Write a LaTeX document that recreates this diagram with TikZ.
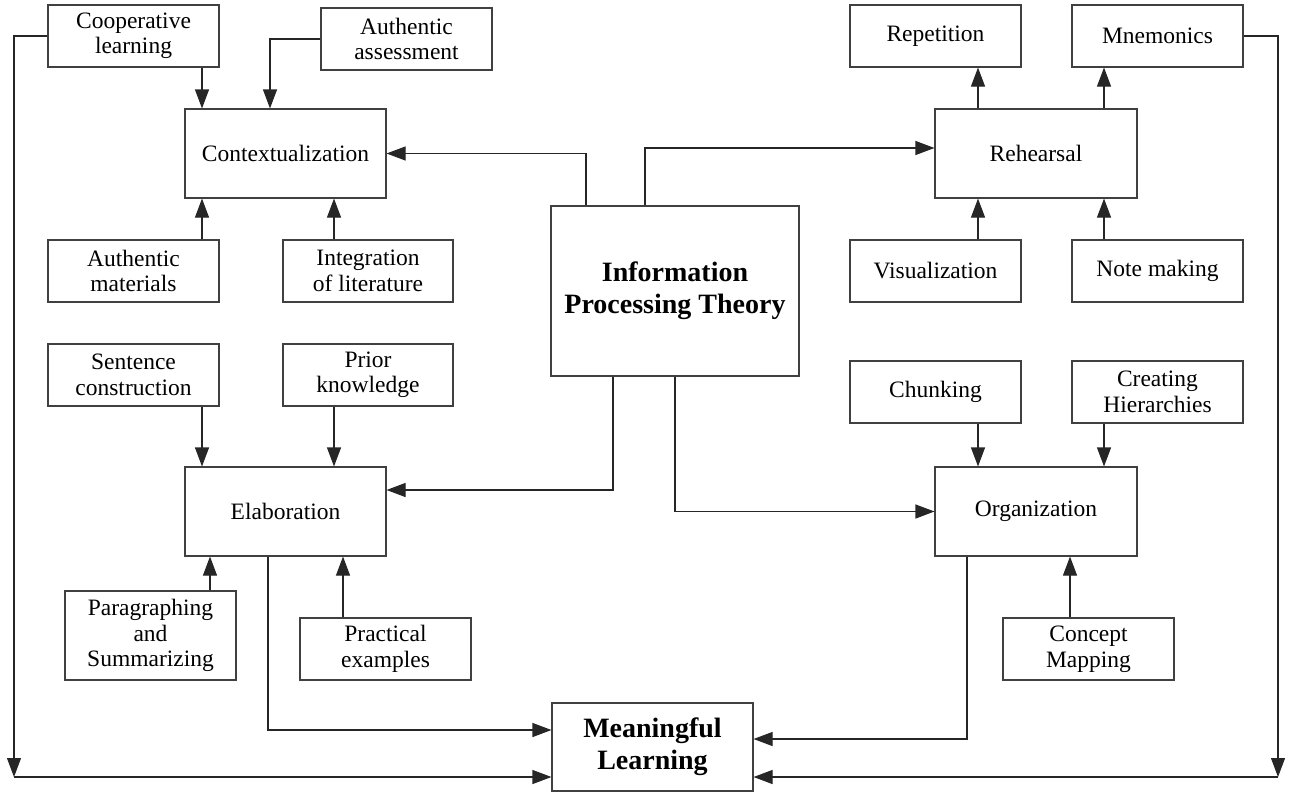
\documentclass[tikz,border=0pt]{standalone}
\usepackage{fontspec}
\setmainfont{Liberation Serif}
\usetikzlibrary{arrows.meta}
\begin{document}
\begin{tikzpicture}[x=1pt,y=-1pt,
  box/.style={draw=black!75, line width=1.1pt, rectangle, inner sep=0pt, align=center,
    font=\fontsize{23.5}{25.5}\selectfont, minimum width=171pt, minimum height=62pt},
  big/.style={box, minimum width=201pt, minimum height=89pt},
  boldtext/.style={font=\fontsize{28}{32}\selectfont\bfseries},
  arr/.style={draw=black!85, line width=1.1pt, -{Triangle[length=19pt,width=14pt]}},
]
\useasboundingbox (0,0) rectangle (1289,792);

% nodes
\node[box] (coop) at (133.5,36) {Cooperative\\learning};
\node[box] (aassess) at (406.5,39) {Authentic\\assessment};
\node[big] (context) at (285.5,153.5) {Contextualization};
\node[box] (amat) at (133.5,271) {Authentic\\materials};
\node[box, minimum width=170pt] (integ) at (368,271) {Integration\\of literature};
\node[box, boldtext, minimum width=248pt, minimum height=170pt] (ipt) at (675,291) {Information\\Processing Theory};
\node[box] (rep) at (935.5,36) {Repetition};
\node[box] (mnem) at (1157.5,36) {Mnemonics};
\node[big, minimum width=202pt] (rehe) at (1036,153.5) {Rehearsal};
\node[box] (vis) at (935.5,271) {Visualization};
\node[box] (note) at (1157.5,271) {Note making};
\node[box] (sent) at (133.5,375) {Sentence\\construction};
\node[box, minimum width=170pt] (prior) at (368,375) {Prior\\knowledge};
\node[big] (elab) at (285.5,511.5) {Elaboration};
\node[box] (chunk) at (935.5,392) {Chunking};
\node[box] (hier) at (1157.5,392) {Creating\\Hierarchies};
\node[big, minimum width=202pt] (org) at (1036,511.5) {Organization};
\node[box, minimum height=89pt] (para) at (150.5,635.5) {Paragraphing\\and\\Summarizing};
\node[box] (prac) at (385.5,649) {Practical\\examples};
\node[box] (concept) at (1088.5,649) {Concept\\Mapping};
\node[box, boldtext, minimum width=201pt, minimum height=88pt] (ml) at (652.5,747) {Meaningful\\Learning};

% helper coordinates
\coordinate (X202) at (202,0);
\coordinate (X210) at (210,0);
\coordinate (X268) at (268,0);
\coordinate (X270) at (270,0);
\coordinate (X334) at (334,0);
\coordinate (X343) at (343,0);
\coordinate (X586) at (586,0);
\coordinate (X613) at (613,0);
\coordinate (X645) at (645,0);
\coordinate (X675) at (675,0);
\coordinate (X967) at (967,0);
\coordinate (X978) at (978,0);
\coordinate (X1070) at (1070,0);
\coordinate (X1104) at (1104,0);
\coordinate (Y148) at (0,148);
\coordinate (Y490) at (0,490);
\coordinate (Y730) at (0,730);
\coordinate (Y739) at (0,739);
\coordinate (BL) at (14,777);
\coordinate (BR) at (1278,777);

% contextualization
\draw[arr] (coop.south -| X202) -- (context.north -| X202);
\draw[arr] (aassess.west) -| (context.north -| X270);
\draw[arr] (amat.north -| X202) -- (context.south -| X202);
\draw[arr] (integ.north -| X334) -- (context.south -| X334);
\draw[arr] (ipt.north -| X586) |- (context.east);

% rehearsal
\draw[arr] (ipt.north -| X645) |- (rehe.west |- Y148);
\draw[arr] (rehe.north -| X978) -- (rep.south -| X978);
\draw[arr] (rehe.north -| X1104) -- (mnem.south -| X1104);
\draw[arr] (vis.north -| X978) -- (rehe.south -| X978);
\draw[arr] (note.north -| X1104) -- (rehe.south -| X1104);

% elaboration
\draw[arr] (ipt.south -| X613) |- (elab.east |- Y490);
\draw[arr] (sent.south -| X202) -- (elab.north -| X202);
\draw[arr] (prior.south -| X334) -- (elab.north -| X334);
\draw[arr] (para.north -| X210) -- (elab.south -| X210);
\draw[arr] (prac.north -| X343) -- (elab.south -| X343);

% organization
\draw[arr] (ipt.south -| X675) |- (org.west);
\draw[arr] (chunk.south -| X978) -- (org.north -| X978);
\draw[arr] (hier.south -| X1104) -- (org.north -| X1104);
\draw[arr] (concept.north -| X1070) -- (org.south -| X1070);

% meaningful learning
\draw[arr] (elab.south -| X268) |- (ml.west |- Y730);
\draw[arr] (org.south -| X967) |- (ml.east |- Y739);
\draw[arr] (coop.west) -| (BL);
\draw[arr] (BL) -- (ml.west |- BL);
\draw[arr] (mnem.east) -| (BR);
\draw[arr] (BR) -- (ml.east |- BR);
\end{tikzpicture}
\end{document}
